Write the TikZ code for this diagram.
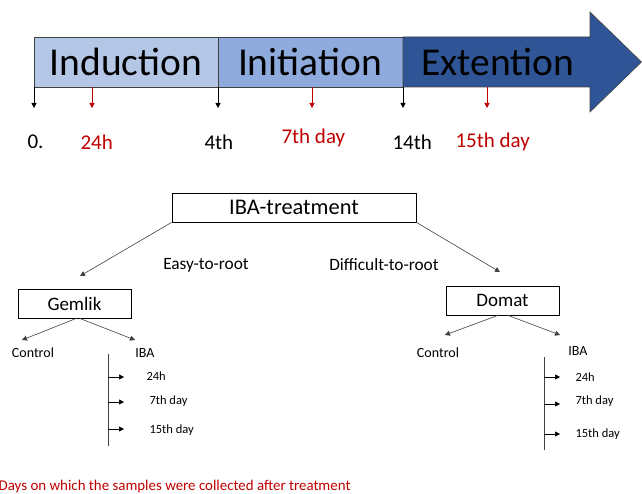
\documentclass[tikz,border=0pt]{standalone}
\usepackage{fontspec}
\setmainfont{Carlito}
\usetikzlibrary{arrows.meta}
\definecolor{cInd}{HTML}{B4C7E7}
\definecolor{cIni}{HTML}{8FAADC}
\definecolor{cExt}{HTML}{2F5597}
\definecolor{cRed}{HTML}{C00000}
\definecolor{cLine}{HTML}{404040}
\tikzset{
  tip/.style={-{Triangle[length=5pt,width=5pt]}},
  blk/.style={tip, draw=black, line width=0.5pt},
  redarr/.style={tip, draw=cRed, line width=0.5pt},
  grayarr/.style={tip, draw=cLine, line width=0.6pt},
  phase/.style={draw=cLine, line width=0.6pt},
  box/.style={draw=black, line width=0.8pt, minimum height=29pt, inner sep=0pt, font=\fontsize{22.4}{26}\selectfont},
  ptext/.style={font=\fontsize{39.5}{44}\selectfont, text=black},
  toplab/.style={font=\fontsize{21}{25}\selectfont, anchor=west},
  midlab/.style={font=\fontsize{17.3}{21}\selectfont},
  smlab/.style={font=\fontsize{14}{17}\selectfont},
  tinylab/.style={font=\fontsize{12.5}{15}\selectfont, anchor=west}
}
\begin{document}
\begin{tikzpicture}[x=1pt,y=-1pt]
\useasboundingbox (0,0) rectangle (642,494);
% timeline
\filldraw[phase, fill=cInd] (34,37) rectangle (218,87);
\filldraw[phase, fill=cIni] (218,37) rectangle (403,87);
\filldraw[phase, fill=cExt] (403,37) -- (590,37) -- (590,12) -- (641.5,62) -- (590,112) -- (590,87) -- (403,87) -- cycle;
\node[ptext] (ind) at (126,62) {Induction};
\node[ptext] (ini) at (310,62) {Initiation};
\node[ptext] (ext) at (498,62) {Extention};
% timeline markers
\foreach \n/\x in {a/34,b/218,c/403}{
  \coordinate (s\n) at (\x,87); \coordinate (e\n) at (\x,108);
  \draw[blk] (s\n) -- (e\n);
}
\foreach \n/\x in {d/92,e/312,f/487}{
  \coordinate (s\n) at (\x,87); \coordinate (e\n) at (\x,108);
  \draw[redarr] (s\n) -- (e\n);
}
\node[toplab] (l0) at (24,142) {0.};
\node[toplab] (l24) at (77,142) {\textcolor{cRed}{24h}};
\node[toplab] (l4) at (201,142) {4th};
\node[toplab, text=cRed] (l7) at (278,138) {7th day};
\node[toplab] (l14) at (389,142) {14th};
\node[toplab, text=cRed] (l15) at (452,142) {15th day};
% tree
\node[box, minimum width=244pt] (treat) at (294,207.5) {IBA-treatment};
\node[box, minimum width=113pt, font=\fontsize{19}{22}\selectfont] (gem) at (74.5,304) {Gemlik};
\node[box, minimum width=113pt, font=\fontsize{19}{22}\selectfont] (dom) at (502.5,300.5) {Domat};
\coordinate (gtip) at (80,276);
\coordinate (dtip) at (500,272);
\draw[grayarr] (treat.south west) -- (gtip);
\draw[grayarr] (treat.south east) -- (dtip);
\node[midlab] (easy) at (206,265) {Easy-to-root};
\node[midlab] (diff) at (384,265) {Difficult-to-root};
% Gemlik
\coordinate (g1) at (76,318.5); \coordinate (g2) at (80,318.5);
\coordinate (gc) at (22,340); \coordinate (gi) at (135,340);
\draw[grayarr] (g1) -- (gc);
\draw[grayarr] (g2) -- (gi);
\node[smlab] (gcon) at (33,353) {Control};
\node[smlab] (giba) at (145,353) {IBA};
\coordinate (gv1) at (108,354); \coordinate (gv2) at (108,446);
\draw[cLine, line width=0.6pt] (gv1) -- (gv2);
\foreach \n/\y in {1/377,2/402,3/429}{
  \coordinate (ga\n) at (108,\y); \coordinate (gb\n) at (124,\y);
  \draw[blk] (ga\n) -- (gb\n);
}
\node[tinylab] (g24) at (143,376) {24h};
\node[tinylab] (g7) at (146,401) {7th day};
\node[tinylab] (g15) at (146,430) {15th day};
% Domat
\coordinate (d1) at (499,315); \coordinate (d2) at (507,315);
\coordinate (dc) at (445,335); \coordinate (di) at (560,335);
\draw[grayarr] (d1) -- (dc);
\draw[grayarr] (d2) -- (di);
\node[smlab] (dcon) at (438,353) {Control};
\node[smlab] (diba) at (578,351) {IBA};
\coordinate (dv1) at (544,357); \coordinate (dv2) at (544,450);
\draw[cLine, line width=0.6pt] (dv1) -- (dv2);
\foreach \n/\y in {1/377,2/404,3/434}{
  \coordinate (da\n) at (544,\y); \coordinate (db\n) at (560,\y);
  \draw[blk] (da\n) -- (db\n);
}
\node[tinylab] (d24) at (572,377) {24h};
\node[tinylab] (d7) at (572,401) {7th day};
\node[tinylab] (d15) at (572,434) {15th day};
% footnote
\node[font=\fontsize{14.9}{18}\selectfont, text=cRed, anchor=west, inner sep=0pt] (foot) at (-1.5,487) {Days on which the samples were collected after treatment};
\end{tikzpicture}
\end{document}
